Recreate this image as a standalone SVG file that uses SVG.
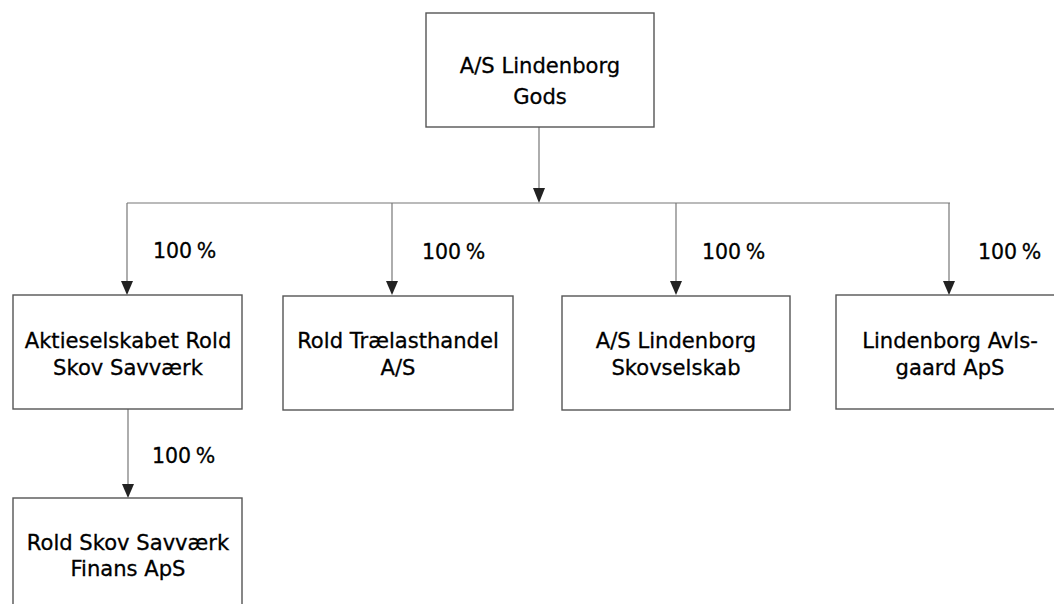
<svg xmlns="http://www.w3.org/2000/svg" width="1054" height="604" viewBox="0 0 1054 604">
<style>
.box{fill:#fff;stroke:#555;stroke-width:1.4}
.t{font-family:"DejaVu Sans","Liberation Sans",sans-serif;font-size:21.1px;fill:#000;stroke:#000;stroke-width:0.3;text-anchor:middle}
.p{font-family:"DejaVu Sans","Liberation Sans",sans-serif;font-size:20.5px;word-spacing:-2px;fill:#000;stroke:#000;stroke-width:0.3}
.c{fill:none;stroke:#777;stroke-width:1.2}
.ah{fill:#222}
</style>
<rect width="1054" height="604" fill="#fff"/>
<g id="connectors">
<line class="c" x1="539" y1="127" x2="539" y2="190"/>
<path class="ah" d="M533,188 L545,188 L539,203 Z"/>
<line class="c" x1="127" y1="203" x2="950" y2="203"/>
<line class="c" x1="127" y1="203" x2="127" y2="282"/>
<path class="ah" d="M121,281 L133,281 L127,295 Z"/>
<line class="c" x1="392" y1="203" x2="392" y2="282"/>
<path class="ah" d="M386,281 L398,281 L392,295 Z"/>
<line class="c" x1="676" y1="203" x2="676" y2="282"/>
<path class="ah" d="M670,281 L682,281 L676,295 Z"/>
<line class="c" x1="949" y1="203" x2="949" y2="282"/>
<path class="ah" d="M943,281 L955,281 L949,295 Z"/>
<line class="c" x1="128" y1="409" x2="128" y2="485"/>
<path class="ah" d="M122,484 L134,484 L128,498 Z"/>
<text class="p" x="153" y="258">100 %</text>
<text class="p" x="422" y="259">100 %</text>
<text class="p" x="702" y="259">100 %</text>
<text class="p" x="978" y="259">100 %</text>
<text class="p" x="152" y="463">100 %</text>
</g>
<g id="n0">
<rect class="box" x="426" y="13" width="228" height="114"/>
<text class="t" x="540" y="73">A/S Lindenborg</text>
<text class="t" x="540" y="104">Gods</text>
</g>
<g id="n1">
<rect class="box" x="13" y="295" width="229" height="114"/>
<text class="t" x="128" y="348">Aktieselskabet Rold</text>
<text class="t" x="128" y="375">Skov Savværk</text>
</g>
<g id="n2">
<rect class="box" x="283" y="296" width="230" height="114"/>
<text class="t" x="398" y="348">Rold Trælasthandel</text>
<text class="t" x="398" y="375">A/S</text>
</g>
<g id="n3">
<rect class="box" x="562" y="296" width="228" height="114"/>
<text class="t" x="676" y="348">A/S Lindenborg</text>
<text class="t" x="676" y="375">Skovselskab</text>
</g>
<g id="n4">
<rect class="box" x="836" y="295" width="230" height="114"/>
<text class="t" x="950" y="348">Lindenborg Avls-</text>
<text class="t" x="950" y="375">gaard ApS</text>
</g>
<g id="n5">
<rect class="box" x="13" y="498" width="229" height="114"/>
<text class="t" x="128" y="550">Rold Skov Savværk</text>
<text class="t" x="128" y="576">Finans ApS</text>
</g>
</svg>
